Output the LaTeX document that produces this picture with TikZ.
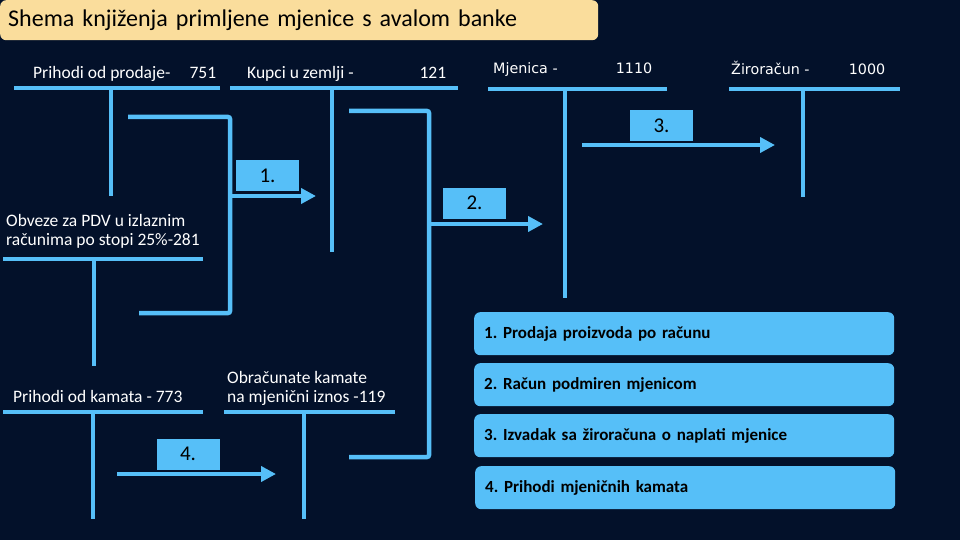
\documentclass[tikz,border=0pt]{standalone}
\usepackage{fontspec}
\setmainfont{Carlito}
\newfontfamily\altfont{DejaVu Sans}
\usetikzlibrary{arrows.meta}
\definecolor{bg}{HTML}{03112A}
\definecolor{lb}{HTML}{56BFF8}
\definecolor{ttl}{HTML}{FADD9C}
\frenchspacing
\begin{document}
\begin{tikzpicture}[x=1pt,y=-1pt,
  tline/.style={line width=4.5pt, draw=lb},
  bracket/.style={line width=4.5pt, draw=lb, rounded corners=2pt},
  arr/.style={line width=4pt, draw=lb, -{Triangle[length=15pt,width=15pt]}},
  lbl/.style={fill=lb, minimum width=63pt, minimum height=31pt, inner sep=0pt,
    font=\fontsize{21}{21}\selectfont, text=black},
  legend/.style={fill=lb, rounded corners=6pt, anchor=north west, inner ysep=0pt,
    inner xsep=10pt, text width=400pt, minimum height=43pt, align=left,
    font=\bfseries\fontsize{17}{17}\selectfont, text=black},
  accname/.style={text=white, font=\fontsize{17.5}{19}\selectfont, anchor=base west, inner sep=0pt},
  accname2/.style={text=white, font=\altfont\fontsize{14.3}{16}\selectfont, anchor=base west, inner sep=0pt},
]
\useasboundingbox (0,0) rectangle (960,540);
\fill[bg] (0,0) rectangle (960,540);

% title
\node[fill=ttl, rounded corners=6pt, anchor=north west, minimum width=598pt, minimum height=40pt,
  inner xsep=8pt, text width=582pt, align=left, font=\fontsize{24}{24}\selectfont, text=black]
  (title) at (0,0) {Shema knjiženja primljene mjenice s avalom banke};

% account headers
\node[accname] (a751) at (33,79) {\hbox to 183pt{Prihodi od prodaje-\hfil 751}};
\node[accname] (a121) at (247,79) {\hbox to 199pt{Kupci u zemlji -\hfil 121}};
\node[accname2] (a1110) at (493,74) {\hbox to 159pt{Mjenica -\hfil 1110}};
\node[accname2] (a1000) at (731,75) {\hbox to 154pt{Žiroračun -\hfil 1000}};
\node[accname, align=left] (a281) at (6,245) {Obveze za PDV u izlaznim\\računima po stopi 25\%-281};
\node[accname] (a773) at (13,402) {Prihodi od kamata - 773};
\node[accname, align=left] (a119) at (227,402) {Obračunate kamate\\na mjenični iznos -119};

% T accounts
\coordinate (b751l) at (14,88);   \coordinate (b751r) at (220,88);
\coordinate (v751t) at (111,88);  \coordinate (v751b) at (111,196);
\coordinate (b121l) at (230,88);  \coordinate (b121r) at (458,88);
\coordinate (v121t) at (332,88);  \coordinate (v121b) at (332,252);
\coordinate (b1110l) at (488,89); \coordinate (b1110r) at (667,89);
\coordinate (v1110t) at (565,89); \coordinate (v1110b) at (565,298);
\coordinate (b1000l) at (729,89); \coordinate (b1000r) at (900,89);
\coordinate (v1000t) at (803,89); \coordinate (v1000b) at (803,197);
\coordinate (b281l) at (3,259);   \coordinate (b281r) at (203,259);
\coordinate (v281t) at (94,259);  \coordinate (v281b) at (94,366);
\coordinate (b773l) at (3,412);   \coordinate (b773r) at (203,412);
\coordinate (v773t) at (93,412);  \coordinate (v773b) at (93,519);
\coordinate (b119l) at (224,412); \coordinate (b119r) at (395,412);
\coordinate (v119t) at (304,412); \coordinate (v119b) at (304,519);
\foreach \n in {751,121,1110,1000,281,773,119}{
  \draw[tline] (b\n l) -- (b\n r);
  \draw[tline] (v\n t) -- (v\n b);
}

% brackets
\coordinate (k1a) at (128,117); \coordinate (k1b) at (230,117);
\coordinate (k1c) at (230,313); \coordinate (k1d) at (139,313);
\draw[bracket] (k1a) -- (k1b) -- (k1c) -- (k1d);
\coordinate (k2a) at (349,111); \coordinate (k2b) at (429,111);
\coordinate (k2c) at (429,457); \coordinate (k2d) at (349,457);
\draw[bracket] (k2a) -- (k2b) -- (k2c) -- (k2d);

% arrows
\coordinate (r1s) at (230,196); \coordinate (r1e) at (316,196);
\coordinate (r2s) at (429,224); \coordinate (r2e) at (543,224);
\coordinate (r3s) at (582,145); \coordinate (r3e) at (775,145);
\coordinate (r4s) at (117,474); \coordinate (r4e) at (276,474);
\draw[arr] (r1s) -- (r1e);
\draw[arr] (r2s) -- (r2e);
\draw[arr] (r3s) -- (r3e);
\draw[arr] (r4s) -- (r4e);

% step labels
\node[lbl] (l1) at (267.5,175.5) {1.};
\node[lbl] (l2) at (474.5,203) {2.};
\node[lbl] (l3) at (661.5,125.5) {3.};
\node[lbl] (l4) at (188,454) {4.};

% legend
\node[legend] (g1) at (474,312) {1. Prodaja proizvoda po računu};
\node[legend] (g2) at (474,363) {2. Račun podmiren mjenicom};
\node[legend] (g3) at (474,414) {3. Izvadak sa žiroračuna o naplati mjenice};
\node[legend] (g4) at (475,466) {4. Prihodi mjeničnih kamata};
\end{tikzpicture}
\end{document}
